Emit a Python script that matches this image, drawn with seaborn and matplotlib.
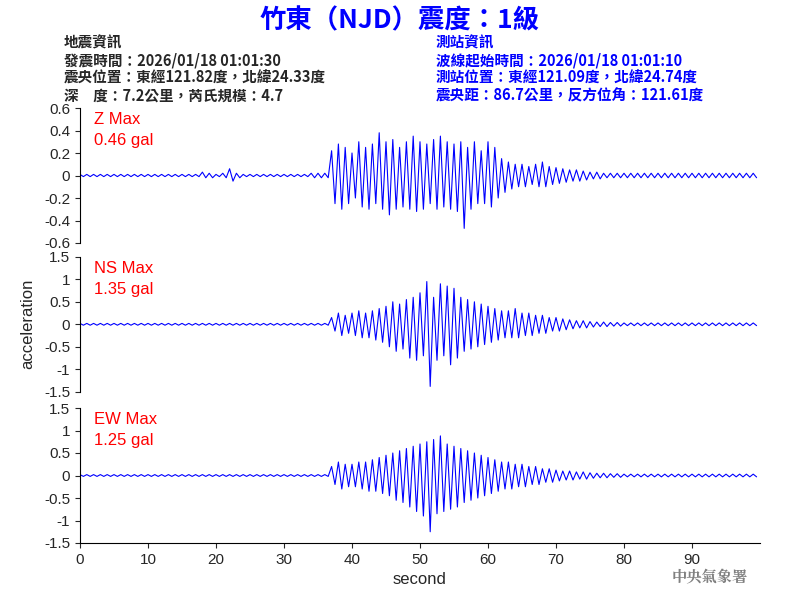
import numpy as np
import matplotlib
matplotlib.use("Agg")
import matplotlib.pyplot as plt
import seaborn as sns

# per-second peak (hi) and trough (lo) of each trace, in gal
z_hi = [.01]*18 + [.03, .02, .01, .02, .06, .02] + [.01]*10 + [.02, .02, .02,
        .22, .28, .25,
        .20, .30, .25, .28, .38, .30, .32, .25, .30, .35,
        .30, .28, .32, .35, .30, .28, .30, .25, .30, .22,
        .30, .25, .15, .12, .10, .10, .08, .10, .12, .08,
        .07, .06, .05, .05, .04, .03, .03, .02, .02, .02] + [.02]*20
z_lo = [-.01]*18 + [-.02, -.02, -.01, -.02, -.05, -.02] + [-.01]*10 + [-.02, -.02, -.02,
        -.25, -.30, -.25,
        -.20, -.28, -.30, -.25, -.30, -.35, -.30, -.28, -.30, -.32,
        -.30, -.25, -.30, -.28, -.30, -.32, -.47, -.30, -.25, -.25,
        -.28, -.20, -.15, -.12, -.10, -.10, -.08, -.10, -.10, -.08,
        -.07, -.06, -.05, -.05, -.04, -.03, -.03, -.02, -.02, -.02] + [-.02]*20
ns_hi = [.02]*37 + [.15, .25, .20,
         .25, .30, .25, .30, .35, .40, .50, .45, .55, .60,
         .70, .95, .60, .90, .85, .80, .60, .55, .50, .45,
         .40, .35, .30, .30, .35, .25, .25, .20, .20, .15,
         .15, .12, .10, .08, .08, .06, .05, .05, .04, .04] + [.03]*20
ns_lo = [-.02]*37 + [-.15, -.25, -.20,
         -.25, -.30, -.30, -.35, -.40, -.50, -.60, -.55, -.75, -.80,
         -.70, -1.38, -.80, -.70, -.90, -.75, -.60, -.55, -.50, -.45,
         -.40, -.35, -.30, -.30, -.30, -.25, -.25, -.20, -.20, -.15,
         -.15, -.12, -.10, -.08, -.08, -.06, -.05, -.05, -.04, -.04] + [-.03]*20
ew_hi = [.02]*37 + [.20, .30, .25,
         .25, .30, .30, .35, .40, .45, .50, .55, .60, .65,
         .70, .75, .80, .88, .70, .65, .60, .55, .50, .45,
         .40, .35, .30, .30, .25, .25, .20, .20, .15, .15,
         .12, .10, .10, .08, .08, .06, .05, .05, .04, .04] + [.03]*20
ew_lo = [-.02]*37 + [-.20, -.30, -.25,
         -.25, -.30, -.35, -.35, -.40, -.45, -.55, -.60, -.70, -.80,
         -.90, -1.25, -.85, -.80, -.75, -.70, -.60, -.55, -.50, -.45,
         -.40, -.35, -.30, -.30, -.25, -.25, -.20, -.20, -.15, -.15,
         -.12, -.10, -.10, -.08, -.08, -.06, -.05, -.05, -.04, -.04] + [-.03]*20

labels = ["Z Max\n0.46 gal", "NS Max\n1.35 gal", "EW Max\n1.25 gal"]
ylims = [(-0.6, 0.6), (-1.5, 1.5), (-1.5, 1.5)]
yticks = [np.arange(-0.6, 0.61, 0.2), np.arange(-1.5, 1.51, 0.5), np.arange(-1.5, 1.51, 0.5)]

sns.set_style("ticks")
plt.rcParams['font.family'] = ['Noto Sans CJK TC', 'DejaVu Sans']
LAT = ['Liberation Sans', 'DejaVu Sans']

fig = plt.figure(figsize=(8, 6), dpi=100)
boxes = [(0.1, 0.595, 0.85, 0.225), (0.1, 0.347, 0.85, 0.225), (0.1, 0.095, 0.85, 0.225)]


def zigzag(hi, lo):
    t = np.arange(len(hi))
    x = np.empty(2 * len(hi))
    y = np.empty(2 * len(hi))
    x[0::2] = t
    x[1::2] = t + 0.5
    y[0::2] = hi
    y[1::2] = lo
    return x, y


for i, (hi, lo) in enumerate([(z_hi, z_lo), (ns_hi, ns_lo), (ew_hi, ew_lo)]):
    ax = fig.add_axes(boxes[i])
    x, y = zigzag(hi, lo)
    sns.lineplot(x=x, y=y, ax=ax, color='#0000ff', lw=0.8, estimator=None, sort=False)
    ax.set_xlim(0, 100)
    ax.set_ylim(*ylims[i])
    ax.set_yticks(yticks[i])
    ax.set_yticklabels([f'{v:g}' for v in np.round(yticks[i], 1)], fontsize=11, family=LAT)
    ax.spines['left'].set_color('black')
    ax.spines['bottom'].set_color('black')
    for s in ['top', 'right']:
        ax.spines[s].set_visible(False)
    ax.text(0.02, 0.97, labels[i], transform=ax.transAxes, color='red', fontsize=12,
            va='top', family=LAT, linespacing=1.5)
    if i < 2:
        ax.spines['bottom'].set_visible(False)
        ax.set_xticks([])
    else:
        ax.set_xticks(range(0, 100, 10))
        ax.set_xticklabels([str(v) for v in range(0, 100, 10)], fontsize=11, family=LAT)
        ax.set_xlabel('second', fontsize=12, family=LAT)
    ax.set_ylabel('')

fig.text(0.035, 0.46, 'acceleration', rotation=90, fontsize=12, ha='center', va='center',
         family=LAT)
fig.text(0.5, 0.965, '竹東（NJD）震度：1級', color='#0000ff', fontsize=19, weight='bold',
         ha='center', va='center')
left = '地震資訊\n發震時間：2026/01/18 01:01:30\n震央位置：東經121.82度，北緯24.33度\n深\u3000度：7.2公里，芮氏規模：4.7'
right = '測站資訊\n波線起始時間：2026/01/18 01:01:10\n測站位置：東經121.09度，北緯24.74度\n震央距：86.7公里，反方位角：121.61度'
fig.text(0.08, 0.942, left, fontsize=10.5, va='top', linespacing=1.12, weight='bold')
fig.text(0.545, 0.942, right, fontsize=10.5, va='top', color='#0000ff', linespacing=1.12,
         weight='bold')
fig.text(0.935, 0.03, '中央氣象署', color='gray', fontsize=11, weight='bold', ha='right',
         family=['Noto Serif CJK TC', 'Noto Sans CJK TC'])

fig.savefig('out.png', dpi=100)
